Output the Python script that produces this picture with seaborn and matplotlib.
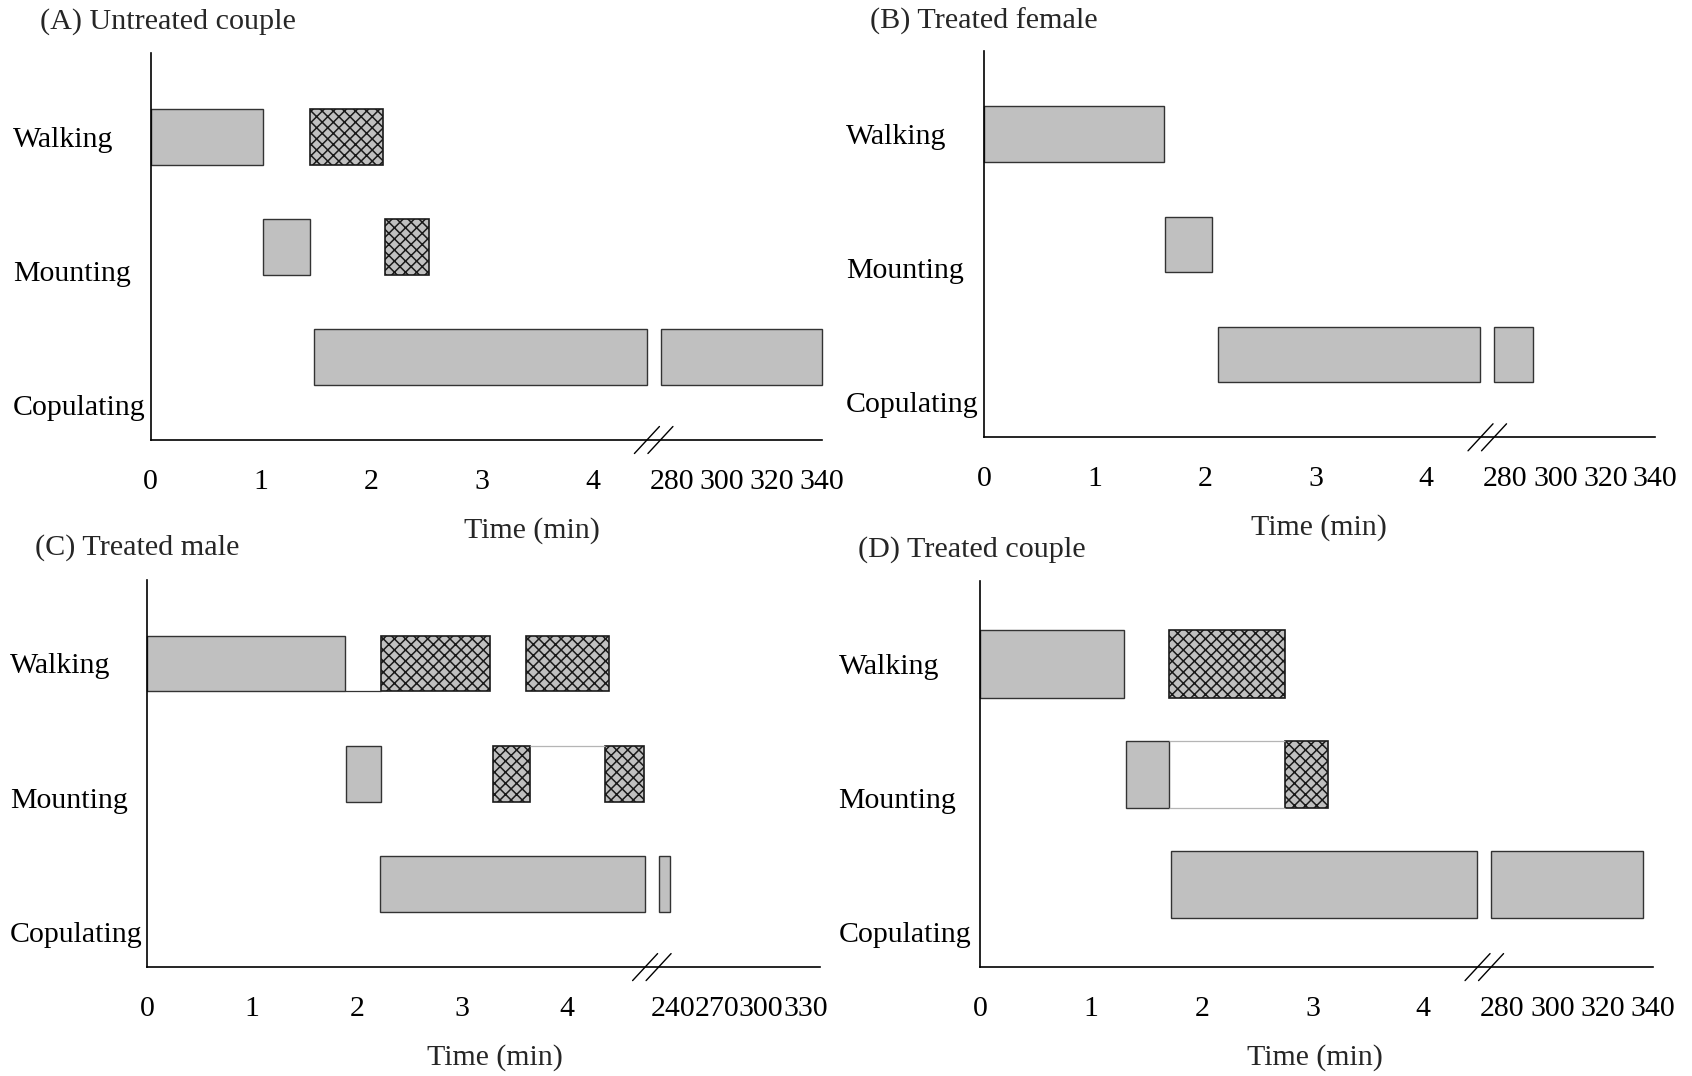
import numpy as np
import matplotlib
matplotlib.use('Agg')
import matplotlib.pyplot as plt
import seaborn as sns

ROWS = ['Walking', 'Mounting', 'Copulating']
TITLES = ['(A) Untreated couple', '(B) Treated female',
          '(C) Treated male', '(D) Treated couple']
XLABEL = 'Time (min)'

# segments: (row index, start, end); minutes before the axis break, axis values after it
untreated_grey = [(0, 0.0, 1.02), (1, 1.02, 1.44), (2, 1.48, 340)]
untreated_hatch = [(0, 1.44, 2.10), (1, 2.12, 2.52)]
untreated_gaps = []

female_grey = [(0, 0.0, 1.63), (1, 1.64, 2.06), (2, 2.12, 291)]
female_hatch = []
female_gaps = []

male_grey = [(0, 0.0, 1.88), (1, 1.89, 2.23), (2, 2.22, 238)]
male_hatch = [(0, 2.23, 3.26), (0, 3.61, 4.40), (1, 3.29, 3.64), (1, 4.36, 4.73)]
male_gaps = [(0, 1.88, 2.23, 'bottom'), (1, 3.64, 4.36, 'top')]

couple_grey = [(0, 0.0, 1.30), (1, 1.32, 1.70), (2, 1.72, 336)]
couple_hatch = [(0, 1.70, 2.75), (1, 2.75, 3.14)]
couple_gaps = [(1, 1.70, 2.75, 'both')]

ticks_min = [0, 1, 2, 3, 4]
ticks_after_break = [280, 300, 320, 340]
ticks_after_break_male = [240, 270, 300, 330]

W, H = 1692, 1076
FS = 21.5
GREY = '#c0c0c0'
EDGE = '#333333'
LABEL_STEP = 1.215


def broken_scale(lo, gap, hi, k):
    def fwd(x):
        x = np.asarray(x, dtype=float)
        mid = lo + (x - lo) / (hi - lo) * gap
        return np.where(x <= lo, x, np.where(x >= hi, lo + gap + (x - hi) * k, mid))

    def inv(u):
        u = np.asarray(u, dtype=float)
        mid = lo + (u - lo) / gap * (hi - lo)
        return np.where(u <= lo, u, np.where(u >= lo + gap, hi + (u - lo - gap) / k, mid))
    return fwd, inv


def split(start, end, lo, hi):
    if start < lo and end > hi:
        return [(start, lo), (hi, end)]
    return [(start, end)]


def draw_panel(fig, spec, grey, hatched, gaps, after_ticks, title):
    left, top, right, bottom = spec['box']
    w, h = right - left, bottom - top
    ax = fig.add_axes([left / W, 1 - bottom / H, w / W, h / H])
    lo, gap, hi, k = spec['scale']
    fwd, inv = broken_scale(lo, gap, hi, k)
    ax.set_xscale('function', functions=(fwd, inv))
    bh = spec['bar_h']

    for row, s, e in grey:
        for a, b in split(s, e, lo, hi):
            ax.barh(row, b - a, left=a, height=bh, color=GREY,
                    edgecolor=EDGE, linewidth=1.0, clip_on=False)
    for row, s, e in hatched:
        for a, b in split(s, e, lo, hi):
            ax.barh(row, b - a, left=a, height=bh, color=GREY,
                    edgecolor='#1a1a1a', linewidth=1.2, hatch='xxx',
                    clip_on=False)
    for row, s, e, side in gaps:
        if side in ('top', 'both'):
            ax.hlines(row - bh / 2, s, e, color='#b5b5b5', lw=0.9)
        if side in ('bottom', 'both'):
            col = EDGE if side == 'bottom' else '#b5b5b5'
            ax.hlines(row + bh / 2, s, e, color=col, lw=0.9)

    ax.set_xlim(0, 340)
    ax.set_ylim(2.75, -0.755)
    ticks = ticks_min + after_ticks
    ax.set_xticks(ticks, [str(t) for t in ticks])
    ax.minorticks_off()
    ax.tick_params(axis='x', direction='out', length=5.5, width=1.0,
                   pad=15.5, labelsize=FS, colors='black')
    ax.set_yticks(np.arange(len(ROWS)) * LABEL_STEP, ROWS)
    ax.tick_params(axis='y', length=0, pad=spec['ypad'] * 72 / 100,
                   labelsize=FS, colors='black')
    for lbl in ax.get_yticklabels():
        lbl.set_horizontalalignment('left')

    sns.despine(ax=ax)
    for side in ('left', 'bottom'):
        ax.spines[side].set_color('black')
        ax.spines[side].set_linewidth(1.2)

    ax.set_xlabel(XLABEL, fontsize=FS, va='center')
    xl, yl = spec['xlabel']
    ax.xaxis.set_label_coords((xl - left) / w, (bottom - yl) / h)

    # break marks on the time axis
    u_max = float(fwd(340))
    xc = (lo + gap / 2) / u_max
    for off in (-6.75, 6.75):
        cx = xc + off / w
        ax.plot([cx - 12.5 / w, cx + 12.5 / w], [-13.5 / h, 13.5 / h],
                transform=ax.transAxes, color='black', lw=1.0, clip_on=False)

    tx, ty = spec['title']
    fig.text(tx / W, 1 - ty / H, title, fontsize=21.7, ha='left', va='center')
    return ax


sns.set_theme(style='white')
plt.rcParams['font.family'] = ['Liberation Serif', 'DejaVu Serif']
plt.rcParams['hatch.linewidth'] = 1.1

common_scale = (4.49, 0.125, 275.5, 0.0226)
specs = [
    dict(box=(150.5, 53.4, 821.7, 440.0), scale=common_scale, bar_h=0.505,
         ypad=137.5, xlabel=(532, 531), title=(40, 21.6)),
    dict(box=(984.1, 51.0, 1655.3, 437.3), scale=common_scale, bar_h=0.505,
         ypad=138.0, xlabel=(1319, 528), title=(870, 21.6)),
    dict(box=(147.3, 580.1, 820.1, 967.1), scale=(4.74, 0.13, 230.5, 0.01404),
         bar_h=0.505, ypad=137.6, xlabel=(495, 1057.5), title=(34.5, 548)),
    dict(box=(980.3, 580.8, 1652.6, 967.1), scale=common_scale, bar_h=0.61,
         ypad=141.8, xlabel=(1315, 1057.5), title=(858, 550)),
]

panels = [
    (untreated_grey, untreated_hatch, untreated_gaps, ticks_after_break),
    (female_grey, female_hatch, female_gaps, ticks_after_break),
    (male_grey, male_hatch, male_gaps, ticks_after_break_male),
    (couple_grey, couple_hatch, couple_gaps, ticks_after_break),
]

fig = plt.figure(figsize=(W / 100, H / 100), dpi=100)
fig.patch.set_facecolor('white')
for spec, (g, hz, gp, at), title in zip(specs, panels, TITLES):
    draw_panel(fig, spec, g, hz, gp, at, title)

fig.savefig('out.png', dpi=100, facecolor='white')
plt.close(fig)
